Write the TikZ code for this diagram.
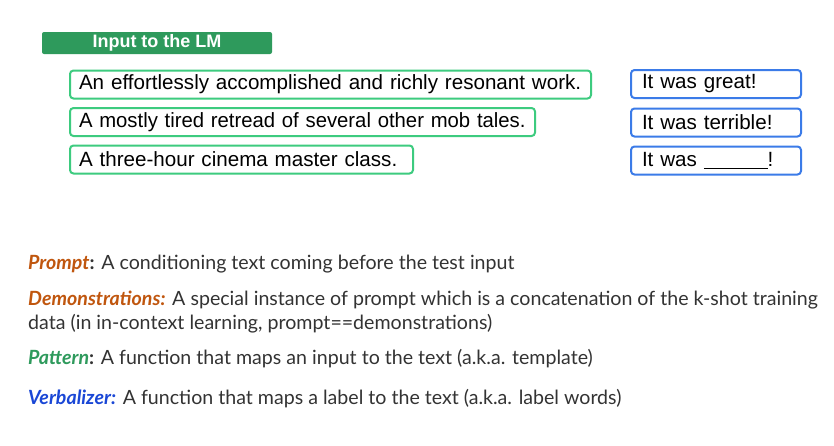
\documentclass[tikz,border=0pt]{standalone}
\usepackage{fontspec}
\setmainfont{Liberation Sans}
\newfontfamily\latofont{Lato}
\definecolor{hdrgreen}{HTML}{2E9A5C}
\definecolor{boxgreen}{HTML}{3DCB7F}
\definecolor{boxblue}{HTML}{3B7BE8}
\definecolor{termorange}{HTML}{C0560E}
\definecolor{termgreen}{HTML}{2E9A5C}
\definecolor{termblue}{HTML}{1A47D6}
\definecolor{bodytext}{HTML}{333333}
\tikzset{
  hdr/.style={fill=hdrgreen, rounded corners=2pt, text=white, font=\fontsize{18}{20}\selectfont\bfseries, minimum width=230pt, minimum height=22pt, inner sep=0pt},
  inbox/.style={draw=boxgreen, line width=2pt, rounded corners=3.5pt, fill=white, anchor=west, inner sep=0pt, inner xsep=9pt, minimum height=28pt, align=left, font=\fontsize{20.6}{22}\selectfont},
  lbbox/.style={draw=boxblue, line width=2pt, rounded corners=3.5pt, fill=white, anchor=west, inner sep=0pt, inner xsep=11pt, minimum height=28pt, align=left, font=\fontsize{20.6}{22}\selectfont, text width=148pt},
  defn/.style={anchor=base west, inner sep=0pt, text=bodytext, font=\latofont\fontsize{19.6}{24.5}\selectfont, align=left}
}
\begin{document}
\begin{tikzpicture}[x=1pt,y=-1pt]
\fill[white] (0,0) rectangle (834,445);
\useasboundingbox (0,0) rectangle (834,445);
\node[hdr] (hdr) at (157,43) {Input to the LM};
\node[inbox, text width=503pt] (in1) at (69,84.5) {\mbox{An effortlessly accomplished and richly resonant work.}};
\node[inbox, text width=447pt] (in2) at (69,122) {\scalebox{0.985}[1]{A mostly tired retread of several other mob tales.}};
\node[inbox, text width=325pt] (in3) at (69,159.5) {\mbox{A three-hour cinema master class.}};
\node[lbbox] (lb1) at (630,84) {It was great!};
\node[lbbox] (lb2) at (630,122.5) {It was terrible!};
\node[lbbox] (lb3) at (630,160.5) {It was \underline{\hspace{3.1em}}!};
\node[defn] (prompt) at (28,269) {\textcolor{termorange}{\textbf{\textit{Prompt}}}\textbf{:} A conditioning text coming before the test input};
\node[defn] (demo) at (28,329.5) {\textcolor{termorange}{\textbf{\textit{Demonstrations:}}} A special instance of prompt which is a concatenation of the k-shot training\\data (in in-context learning, prompt==demonstrations)};
\node[defn] (pattern) at (28,364) {\textcolor{termgreen}{\textbf{\textit{Pattern}}}\textbf{:} A function that maps an input to the text (a.k.a. template)};
\node[defn] (verb) at (28,404) {\textcolor{termblue}{\textbf{\textit{Verbalizer:}}} A function that maps a label to the text (a.k.a. label words)};
\end{tikzpicture}
\end{document}
